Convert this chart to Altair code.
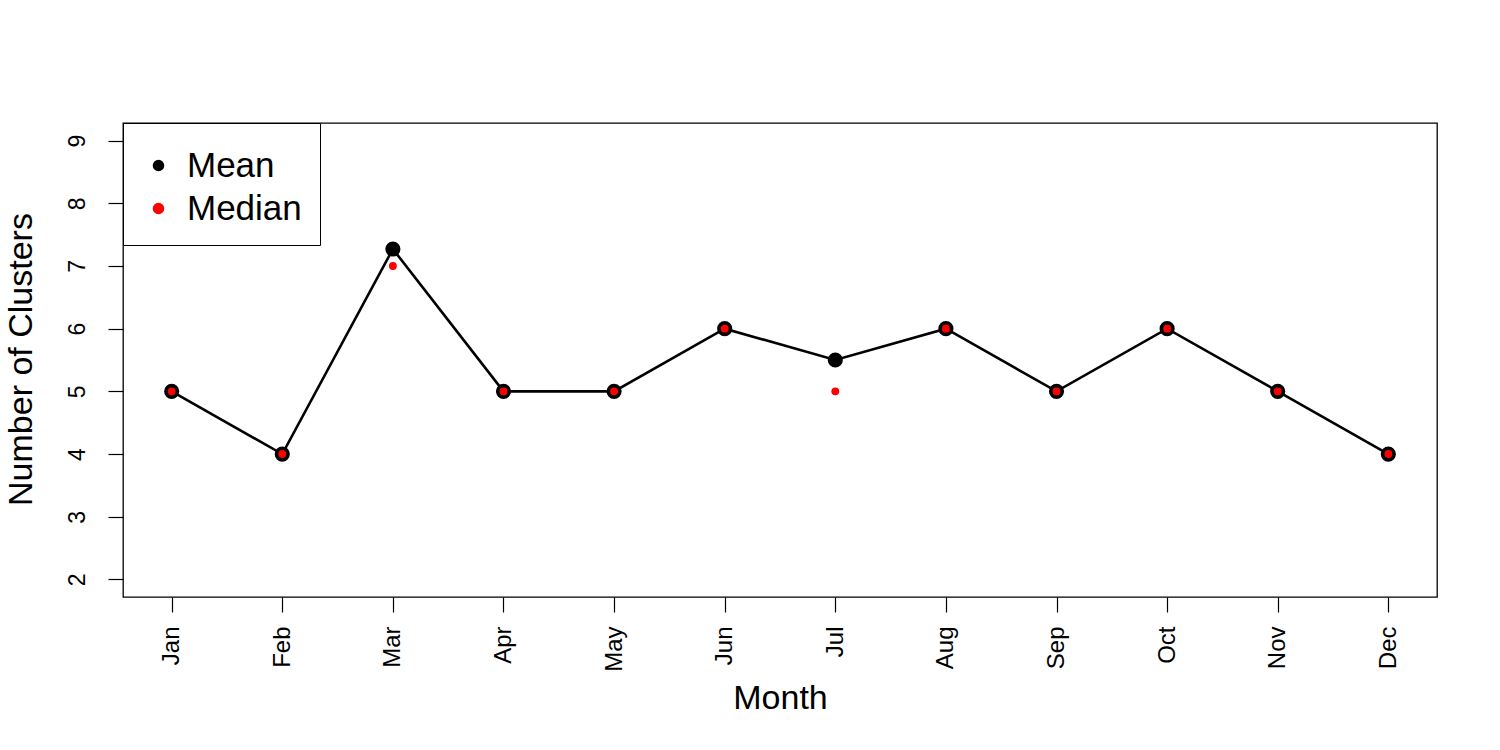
import altair as alt
import pandas as pd

months = ["Jan", "Feb", "Mar", "Apr", "May", "Jun", "Jul", "Aug", "Sep", "Oct", "Nov", "Dec"]
month_idx = list(range(1, 13))
mean_vals = [5, 4, 7.27, 5, 5, 6, 5.5, 6, 5, 6, 5, 4]
median_vals = [5, 4, 7, 5, 5, 6, 5, 6, 5, 6, 5, 4]
y_ticks = [2, 3, 4, 5, 6, 7, 8, 9]

df = pd.DataFrame(
    {
        "m": month_idx * 2,
        "value": mean_vals + median_vals,
        "series": ["Mean"] * 12 + ["Median"] * 12,
    }
)

FONT = "Liberation Sans"
label_expr = "[" + ",".join(f"'{m}'" for m in months) + "][datum.value - 1]"

x = alt.X(
    "m:Q",
    scale=alt.Scale(domain=[0.56, 12.44], nice=False, zero=False),
    axis=alt.Axis(
        values=month_idx,
        labelExpr=label_expr,
        labelAngle=270,
        labelAlign="right",
        labelBaseline="middle",
        labelPadding=14,
        labelFontSize=24,
        labelFont=FONT,
        labelColor="black",
        tickSize=15,
        tickColor="black",
        tickWidth=1.2,
        domain=False,
        grid=False,
        title="Month",
        titleFont=FONT,
        titleFontSize=34,
        titleFontWeight="normal",
        titleColor="black",
        titleBaseline="alphabetic",
        titleY=111,
        titleX=657,
        titleAlign="center",
        labelOverlap=False,
    ),
)

y = alt.Y(
    "value:Q",
    scale=alt.Scale(domain=[1.72, 9.28], nice=False, zero=False),
    axis=alt.Axis(
        values=y_ticks,
        labelAngle=270,
        labelAlign="center",
        labelBaseline="bottom",
        labelPadding=19,
        labelFontSize=23,
        labelFont=FONT,
        labelColor="black",
        tickSize=15,
        tickColor="black",
        tickWidth=1.2,
        domain=False,
        grid=False,
        title="Number of Clusters",
        titleFont=FONT,
        titleFontSize=34,
        titleFontWeight="normal",
        titleColor="black",
        titleAngle=270,
        titleAlign="center",
        titleBaseline="alphabetic",
        titleX=-92,
        titleY=236,
        labelOverlap=False,
    ),
)

color = alt.Color(
    "series:N",
    scale=alt.Scale(domain=["Mean", "Median"], range=["black", "red"]),
    legend=alt.Legend(
        title=" ",
        titleFontSize=4,
        titlePadding=3,
        orient="none",
        legendX=0,
        legendY=0,
        direction="vertical",
        symbolType="circle",
        symbolSize=135,
        symbolStrokeWidth=0,
        labelFont=FONT,
        labelFontSize=35,
        labelColor="black",
        labelOffset=11,
        rowPadding=7,
        padding=18,
        fillColor="white",
        strokeColor="black",
    ),
)

base = alt.Chart(df)

line = base.transform_filter(alt.datum.series == "Mean").mark_line(
    color="black", strokeWidth=2.6
).encode(x=x, y=y)

mean_pts = base.transform_filter(alt.datum.series == "Mean").mark_circle(
    opacity=1, size=230
).encode(x=x, y=y, color=color)

median_pts = base.transform_filter(alt.datum.series == "Median").mark_circle(
    opacity=1, size=62
).encode(x=x, y=y, color=color)

chart = (
    alt.layer(line, mean_pts, median_pts)
    .properties(
        width=1314,
        height=474,
        autosize=alt.AutoSizeParams(type="none"),
        padding={"left": 123, "top": 123, "right": 63, "bottom": 153},
        background="white",
    )
    .configure_view(stroke="black", strokeWidth=1.3)
)

chart.save("out.html", embed_options={"renderer": "svg", "actions": False})
